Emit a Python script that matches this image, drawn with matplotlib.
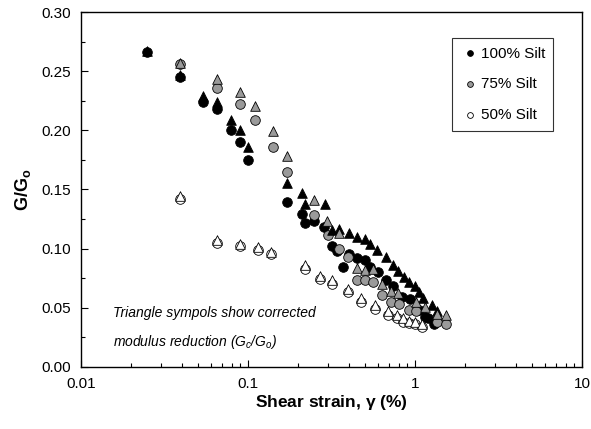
import matplotlib
matplotlib.use("Agg")
import matplotlib.pyplot as plt
from matplotlib.ticker import LogLocator, MultipleLocator, FixedFormatter, FixedLocator

plt.rcParams['font.family'] = ['Liberation Sans', 'DejaVu Sans']
plt.rcParams['mathtext.fontset'] = 'custom'
plt.rcParams['mathtext.rm'] = 'Liberation Sans'
plt.rcParams['mathtext.it'] = 'Liberation Sans:italic'
plt.rcParams['mathtext.bf'] = 'Liberation Sans:bold'

# 100% silt
strain_100 = [0.025, 0.039, 0.054, 0.065, 0.079, 0.090, 0.100, 0.170, 0.210, 0.219,
              0.249, 0.285, 0.317, 0.340, 0.369, 0.400, 0.451, 0.502, 0.538, 0.600,
              0.667, 0.735, 0.830, 0.935, 1.05, 1.15, 1.20, 1.29]
g_100 = [0.266, 0.245, 0.224, 0.218, 0.200, 0.190, 0.175, 0.139, 0.129, 0.1215,
         0.123, 0.118, 0.102, 0.098, 0.084, 0.095, 0.092, 0.090, 0.084, 0.080,
         0.0735, 0.0685, 0.059, 0.057, 0.048, 0.0425, 0.041, 0.036]
strain_100c = [0.025, 0.039, 0.054, 0.065, 0.079, 0.090, 0.100, 0.170, 0.210, 0.219,
               0.289, 0.317, 0.351, 0.403, 0.451, 0.502, 0.538, 0.595, 0.670, 0.741,
               0.795, 0.863, 0.925, 1.00, 1.06, 1.12, 1.26, 1.35]
g_100c = [0.267, 0.247, 0.229, 0.224, 0.209, 0.200, 0.186, 0.155, 0.147, 0.138,
          0.1375, 0.1158, 0.1164, 0.113, 0.110, 0.108, 0.104, 0.099, 0.0927, 0.0862,
          0.0806, 0.0763, 0.0721, 0.0679, 0.063, 0.058, 0.0524, 0.0468]

# 75% silt
strain_75 = [0.039, 0.065, 0.090, 0.110, 0.141, 0.171, 0.249, 0.303, 0.350, 0.399,
             0.450, 0.500, 0.563, 0.638, 0.716, 0.802, 0.925, 1.01, 1.35, 1.53]
g_75 = [0.256, 0.2356, 0.222, 0.209, 0.186, 0.1646, 0.128, 0.1116, 0.100, 0.0927,
        0.0735, 0.073, 0.072, 0.061, 0.055, 0.053, 0.048, 0.0468, 0.038, 0.036]
strain_75c = [0.039, 0.065, 0.090, 0.110, 0.141, 0.171, 0.249, 0.298, 0.351, 0.450,
              0.500, 0.560, 0.637, 0.716, 0.795, 1.01, 1.15, 1.35, 1.53]
g_75c = [0.257, 0.243, 0.232, 0.2206, 0.199, 0.178, 0.141, 0.1237, 0.113, 0.0834,
         0.082, 0.0828, 0.070, 0.0645, 0.0623, 0.0552, 0.0505, 0.0448, 0.044]

# 50% silt
strain_50 = [0.039, 0.065, 0.090, 0.115, 0.137, 0.219, 0.270, 0.319, 0.398, 0.473,
             0.577, 0.692, 0.776, 0.851, 0.925, 1.00, 1.10]
g_50 = [0.142, 0.105, 0.102, 0.099, 0.095, 0.083, 0.074, 0.070, 0.063, 0.055,
        0.049, 0.044, 0.041, 0.038, 0.037, 0.036, 0.034]
g_50c = [0.144, 0.107, 0.104, 0.101, 0.097, 0.086, 0.077, 0.073, 0.066, 0.058,
         0.052, 0.047, 0.044, 0.041, 0.039, 0.038, 0.036]

x_ticks = [0.01, 0.1, 1, 10]
x_tick_labels = ['0.01', '0.1', '1', '10']

gray = '#9a9a9a'

fig = plt.figure(figsize=(5.91, 4.29), dpi=100)
ax = fig.add_axes([0.137, 0.145, 0.848, 0.827])

s = 48
ew = 0.6
# circles (measured)
ax.scatter(strain_100, g_100, s=s, marker='o', c='black', edgecolors='black', linewidths=ew, zorder=3, label='100% Silt')
ax.scatter(strain_75, g_75, s=s, marker='o', c=gray, edgecolors='black', linewidths=ew, zorder=3, label='75% Silt')
ax.scatter(strain_50, g_50, s=s, marker='o', c='white', edgecolors='black', linewidths=ew, zorder=3, label='50% Silt')
# triangles (corrected)
ax.scatter(strain_100c, g_100c, s=s, marker='^', c='black', edgecolors='black', linewidths=ew, zorder=4)
ax.scatter(strain_75c, g_75c, s=s, marker='^', c=gray, edgecolors='black', linewidths=ew, zorder=4)
ax.scatter(strain_50, g_50c, s=s, marker='^', c='white', edgecolors='black', linewidths=ew, zorder=4)

ax.set_xscale('log')
ax.set_xlim(0.01, 10)
ax.set_ylim(0, 0.30)
ax.xaxis.set_major_locator(FixedLocator(x_ticks))
ax.xaxis.set_major_formatter(FixedFormatter(x_tick_labels))
ax.xaxis.set_minor_locator(LogLocator(base=10, subs=range(2, 10)))
ax.yaxis.set_major_locator(MultipleLocator(0.05))
ax.yaxis.set_minor_locator(MultipleLocator(0.025))
ax.yaxis.set_major_formatter(plt.FormatStrFormatter('%.2f'))
ax.tick_params(which='both', direction='in', top=False, right=False, labelsize=11)
ax.tick_params(which='major', length=5, width=0.8, pad=7)
ax.tick_params(which='minor', length=3, width=0.8)
ax.tick_params(axis='y', which='minor', labelleft=False)
ax.xaxis.set_minor_formatter(plt.NullFormatter())
for sp in ax.spines.values():
    sp.set_linewidth(1.0)

ax.set_xlabel(r'Shear strain, $\mathbf{\gamma}$ (%)', fontsize=12.5, fontweight='bold', labelpad=2)
ax.set_ylabel(r'$\mathbf{G/G_o}$', fontsize=13, labelpad=6)

ax.text(0.0155, 0.0425, 'Triangle sympols show corrected', style='italic', fontsize=10)
ax.text(0.0155, 0.0175, r'modulus reduction ($G_c$/$G_o$)', style='italic', fontsize=10)

leg = ax.legend(loc='upper right', bbox_to_anchor=(0.958, 0.948), markerscale=0.6, fontsize=11,
                frameon=True, fancybox=False, edgecolor='black', handletextpad=0.1,
                borderpad=0.55, labelspacing=1.1, handlelength=1.2)
leg.get_frame().set_linewidth(0.8)

fig.savefig('out.png', dpi=100)
